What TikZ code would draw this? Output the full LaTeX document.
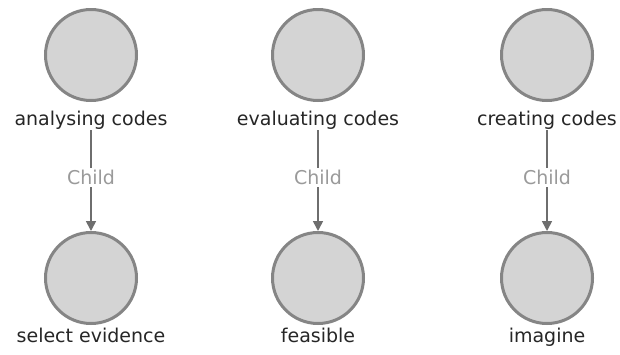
\documentclass[tikz,border=0pt]{standalone}
\usepackage{fontspec}
\setmainfont{DejaVu Sans}
\usetikzlibrary{arrows.meta}
\definecolor{nodefill}{HTML}{D4D4D4}
\definecolor{nodeline}{HTML}{858585}
\definecolor{edgeline}{HTML}{6E6E6E}
\definecolor{edgetext}{HTML}{9A9A9A}
\begin{document}
\begin{tikzpicture}[x=1pt,y=-1pt,
  topic/.style={circle,draw=nodeline,fill=nodefill,line width=3pt,minimum size=91pt,inner sep=0pt},
  caption/.style={font=\fontsize{19}{19}\selectfont,text=black!85,inner sep=1pt},
  childedge/.style={draw=edgeline,line width=1.6pt,-{Triangle[length=10pt,width=10pt]}},
  edgelabel/.style={font=\fontsize{19}{19}\selectfont,text=edgetext,fill=white,inner sep=2pt}]
\useasboundingbox[fill=white] (0,0) rectangle (620,354);
% parent and child circles
\node[topic] (a1) at (91,55) {};
\node[topic] (b1) at (318,55) {};
\node[topic] (c1) at (547,55) {};
\node[topic] (a2) at (91,278) {};
\node[topic] (b2) at (318,278) {};
\node[topic] (c2) at (547,278) {};
% captions under the circles
\node[caption,anchor=base] (la1) at (91,125) {analysing codes};
\node[caption,anchor=base] (lb1) at (318,125) {evaluating codes};
\node[caption,anchor=base] (lc1) at (547,125) {creating codes};
\node[caption,anchor=base] (la2) at (91,342) {select evidence};
\node[caption,anchor=base] (lb2) at (318,342) {feasible};
\node[caption,anchor=base] (lc2) at (547,342) {imagine};
% parent-to-child connectors
\foreach \p/\c in {la1/a2,lb1/b2,lc1/c2}{
  \draw[childedge] (\p.south) -- (\c.north) node[edgelabel,pos=0.47] {Child};
}
\end{tikzpicture}
\end{document}
